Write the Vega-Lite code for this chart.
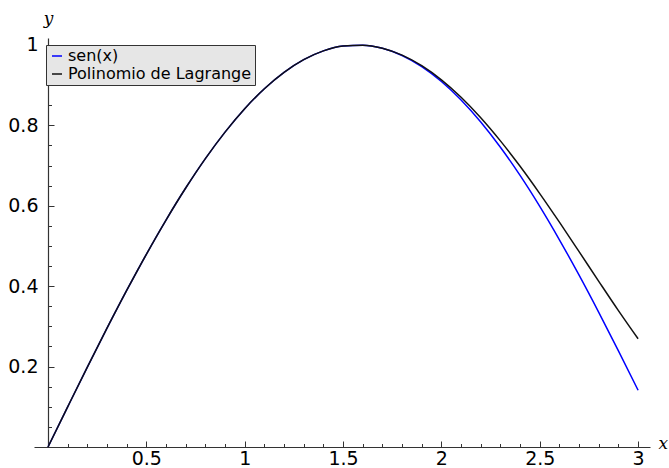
{
  "$schema": "https://vega.github.io/schema/vega-lite/v6.json",
  "width": 616,
  "height": 409,
  "autosize": {"type": "none"},
  "padding": {"left": 34, "top": 38, "right": 19, "bottom": 21},
  "background": "white",
  "data": {
    "values": [
      {"x": 0.0, "y": 0.0, "f": "sen(x)"},
      {"x": 0.1, "y": 0.0998, "f": "sen(x)"},
      {"x": 0.2, "y": 0.1987, "f": "sen(x)"},
      {"x": 0.3, "y": 0.2955, "f": "sen(x)"},
      {"x": 0.4, "y": 0.3894, "f": "sen(x)"},
      {"x": 0.5, "y": 0.4794, "f": "sen(x)"},
      {"x": 0.6, "y": 0.5646, "f": "sen(x)"},
      {"x": 0.7, "y": 0.6442, "f": "sen(x)"},
      {"x": 0.8, "y": 0.7174, "f": "sen(x)"},
      {"x": 0.9, "y": 0.7833, "f": "sen(x)"},
      {"x": 1.0, "y": 0.8415, "f": "sen(x)"},
      {"x": 1.1, "y": 0.8912, "f": "sen(x)"},
      {"x": 1.2, "y": 0.932, "f": "sen(x)"},
      {"x": 1.3, "y": 0.9636, "f": "sen(x)"},
      {"x": 1.4, "y": 0.9854, "f": "sen(x)"},
      {"x": 1.5, "y": 0.9975, "f": "sen(x)"},
      {"x": 1.6, "y": 0.9996, "f": "sen(x)"},
      {"x": 1.7, "y": 0.9917, "f": "sen(x)"},
      {"x": 1.8, "y": 0.9738, "f": "sen(x)"},
      {"x": 1.9, "y": 0.9463, "f": "sen(x)"},
      {"x": 2.0, "y": 0.9093, "f": "sen(x)"},
      {"x": 2.1, "y": 0.8632, "f": "sen(x)"},
      {"x": 2.2, "y": 0.8085, "f": "sen(x)"},
      {"x": 2.3, "y": 0.7457, "f": "sen(x)"},
      {"x": 2.4, "y": 0.6755, "f": "sen(x)"},
      {"x": 2.5, "y": 0.5985, "f": "sen(x)"},
      {"x": 2.6, "y": 0.5155, "f": "sen(x)"},
      {"x": 2.7, "y": 0.4274, "f": "sen(x)"},
      {"x": 2.8, "y": 0.335, "f": "sen(x)"},
      {"x": 2.9, "y": 0.2392, "f": "sen(x)"},
      {"x": 3.0, "y": 0.1411, "f": "sen(x)"},
      {"x": 0.0, "y": 0.0, "f": "Polinomio de Lagrange"},
      {"x": 0.1, "y": 0.0998, "f": "Polinomio de Lagrange"},
      {"x": 0.2, "y": 0.1987, "f": "Polinomio de Lagrange"},
      {"x": 0.3, "y": 0.2955, "f": "Polinomio de Lagrange"},
      {"x": 0.4, "y": 0.3894, "f": "Polinomio de Lagrange"},
      {"x": 0.5, "y": 0.4794, "f": "Polinomio de Lagrange"},
      {"x": 0.6, "y": 0.5646, "f": "Polinomio de Lagrange"},
      {"x": 0.7, "y": 0.6442, "f": "Polinomio de Lagrange"},
      {"x": 0.8, "y": 0.7174, "f": "Polinomio de Lagrange"},
      {"x": 0.9, "y": 0.7833, "f": "Polinomio de Lagrange"},
      {"x": 1.0, "y": 0.8415, "f": "Polinomio de Lagrange"},
      {"x": 1.1, "y": 0.8912, "f": "Polinomio de Lagrange"},
      {"x": 1.2, "y": 0.932, "f": "Polinomio de Lagrange"},
      {"x": 1.3, "y": 0.9636, "f": "Polinomio de Lagrange"},
      {"x": 1.4, "y": 0.9854, "f": "Polinomio de Lagrange"},
      {"x": 1.5, "y": 0.9975, "f": "Polinomio de Lagrange"},
      {"x": 1.6, "y": 0.9996, "f": "Polinomio de Lagrange"},
      {"x": 1.7, "y": 0.9921, "f": "Polinomio de Lagrange"},
      {"x": 1.8, "y": 0.9749, "f": "Polinomio de Lagrange"},
      {"x": 1.9, "y": 0.9486, "f": "Polinomio de Lagrange"},
      {"x": 2.0, "y": 0.9134, "f": "Polinomio de Lagrange"},
      {"x": 2.1, "y": 0.87, "f": "Polinomio de Lagrange"},
      {"x": 2.2, "y": 0.8191, "f": "Polinomio de Lagrange"},
      {"x": 2.3, "y": 0.7615, "f": "Polinomio de Lagrange"},
      {"x": 2.4, "y": 0.6983, "f": "Polinomio de Lagrange"},
      {"x": 2.5, "y": 0.6304, "f": "Polinomio de Lagrange"},
      {"x": 2.6, "y": 0.5592, "f": "Polinomio de Lagrange"},
      {"x": 2.7, "y": 0.486, "f": "Polinomio de Lagrange"},
      {"x": 2.8, "y": 0.4122, "f": "Polinomio de Lagrange"},
      {"x": 2.9, "y": 0.3393, "f": "Polinomio de Lagrange"},
      {"x": 3.0, "y": 0.2692, "f": "Polinomio de Lagrange"}
    ]
  },
  "layer": [
    {
      "mark": {"type": "point", "opacity": 0},
      "encoding": {
        "x": {
          "field": "x", "type": "quantitative",
          "scale": {"domain": [-0.0712, 3.0605], "nice": false, "zero": false},
          "axis": {
            "orient": "bottom", "domain": false, "labels": false, "title": null,
            "values": [0.1, 0.2, 0.3, 0.4, 0.6, 0.7, 0.8, 0.9, 1.1, 1.2, 1.3, 1.4, 1.6, 1.7, 1.8, 1.9, 2.1, 2.2, 2.3, 2.4, 2.6, 2.7, 2.8, 2.9],
            "tickSize": -3.5
          }
        },
        "y": {
          "field": "y", "type": "quantitative",
          "scale": {"domain": [0, 1.0174], "nice": false},
          "axis": {
            "orient": "left", "offset": -14, "domain": false, "labels": false, "title": null,
            "values": [0.05, 0.1, 0.15, 0.25, 0.3, 0.35, 0.45, 0.5, 0.55, 0.65, 0.7, 0.75, 0.85, 0.9, 0.95],
            "tickSize": -3.5
          }
        }
      }
    },
    {
      "mark": {"type": "line", "strokeWidth": 1.5, "interpolate": "monotone"},
      "encoding": {
        "x": {
          "field": "x", "type": "quantitative",
          "axis": {
            "orient": "bottom",
            "values": [0.5, 1, 1.5, 2, 2.5, 3],
            "format": ".1~f",
            "tickSize": -6,
            "labelPadding": 8,
            "title": "x",
            "titleX": 624, "titleY": -4,
            "titleAlign": "left", "titleBaseline": "middle", "titleAngle": 0
          }
        },
        "y": {
          "field": "y", "type": "quantitative",
          "axis": {
            "orient": "left", "offset": -14,
            "values": [0.2, 0.4, 0.6, 0.8, 1],
            "format": ".1~f",
            "tickSize": -6,
            "labelPadding": 16,
            "title": "y",
            "titleX": 0, "titleY": -20,
            "titleAlign": "center", "titleBaseline": "middle", "titleAngle": 0
          }
        },
        "color": {
          "field": "f", "type": "nominal",
          "scale": {"domain": ["sen(x)", "Polinomio de Lagrange"], "range": ["#0000ff", "#111111"]},
          "legend": {
            "title": null,
            "orient": "none",
            "legendX": 12, "legendY": 7,
            "fillColor": "#e6e6e6",
            "strokeColor": "#333333",
            "padding": 3,
            "symbolType": "stroke",
            "symbolSize": 100,
            "symbolStrokeWidth": 1.5,
            "labelFont": "DejaVu Sans",
            "labelFontSize": 16,
            "labelColor": "#000000",
            "labelOffset": 3,
            "rowPadding": 2,
            "labelLimit": 400
          }
        }
      }
    }
  ],
  "resolve": {"axis": {"x": "independent", "y": "independent"}},
  "config": {
    "view": {"stroke": null},
    "axis": {
      "grid": false,
      "domainColor": "#333333",
      "domainWidth": 1.2,
      "tickColor": "#333333",
      "tickWidth": 1,
      "labelFont": "DejaVu Sans",
      "labelFontSize": 19,
      "labelColor": "#000000",
      "titleFont": "DejaVu Serif",
      "titleFontStyle": "italic",
      "titleFontWeight": "normal",
      "titleFontSize": 17,
      "titleColor": "#000000"
    }
  }
}
